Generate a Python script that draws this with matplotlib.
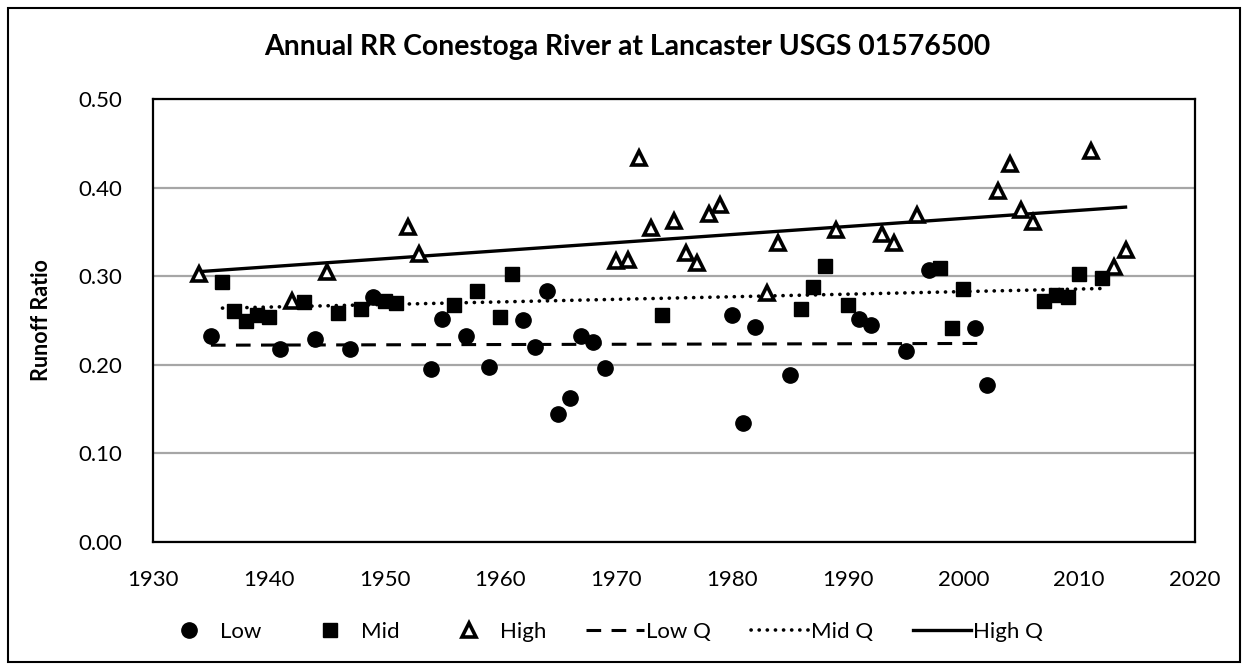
import numpy as np
import matplotlib
matplotlib.use("Agg")
import matplotlib.pyplot as plt
from matplotlib.lines import Line2D
from matplotlib.patches import Rectangle

plt.rcParams['font.family'] = ['Lato', 'DejaVu Sans']

title = "Annual RR Conestoga River at Lancaster USGS 01576500"
ylabel = "Runoff Ratio"

low_years = [1935, 1941, 1944, 1947, 1949, 1954, 1955, 1957, 1959, 1962, 1963, 1964, 1965, 1966,
             1967, 1968, 1969, 1980, 1981, 1982, 1985, 1991, 1992, 1995, 1997, 2001, 2002]
low_vals = [0.232, 0.218, 0.229, 0.218, 0.276, 0.195, 0.252, 0.233, 0.197, 0.251, 0.220, 0.283, 0.144, 0.163,
            0.232, 0.226, 0.196, 0.256, 0.134, 0.243, 0.188, 0.252, 0.245, 0.216, 0.307, 0.242, 0.177]

mid_years = [1936, 1937, 1938, 1939, 1940, 1943, 1946, 1948, 1950, 1951, 1956, 1958, 1960, 1961,
             1974, 1986, 1987, 1988, 1990, 1998, 1999, 2000, 2007, 2008, 2009, 2010, 2012]
mid_vals = [0.294, 0.261, 0.250, 0.256, 0.254, 0.271, 0.258, 0.263, 0.272, 0.270, 0.267, 0.283, 0.254, 0.303,
            0.256, 0.263, 0.288, 0.312, 0.268, 0.309, 0.241, 0.285, 0.272, 0.279, 0.277, 0.303, 0.298]

high_years = [1934, 1942, 1945, 1952, 1953, 1970, 1971, 1972, 1973, 1975, 1976, 1977, 1978, 1979,
              1983, 1984, 1989, 1993, 1994, 1996, 2003, 2004, 2005, 2006, 2011, 2013, 2014]
high_vals = [0.303, 0.272, 0.305, 0.355, 0.325, 0.317, 0.318, 0.433, 0.354, 0.362, 0.326, 0.315, 0.370, 0.380,
             0.281, 0.337, 0.352, 0.348, 0.337, 0.369, 0.396, 0.427, 0.375, 0.361, 0.441, 0.310, 0.330]

x_ticks = [1930, 1940, 1950, 1960, 1970, 1980, 1990, 2000, 2010, 2020]
y_ticks = [0.0, 0.1, 0.2, 0.3, 0.4, 0.5]

fig = plt.figure(figsize=(12.48, 6.70), dpi=100)
ax = fig.add_axes([153/1248, 1-542/670, (1195-153)/1248, (542-99)/670])

def trend(xs, ys):
    xs = np.asarray(xs, float)
    ys = np.asarray(ys, float)
    k, b = np.polyfit(xs, ys, 1)
    xx = np.array([xs.min(), xs.max()])
    return xx, k*xx + b

lx, ly = trend(low_years, low_vals)
mx, my = trend(mid_years, mid_vals)
hx, hy = trend(high_years, high_vals)

dash_style = dict(color='black', lw=2.2, linestyle=(0, (4.8, 3.4)))
dot_style = dict(color='black', lw=2.6, linestyle=(0, (0.05, 2.2)), dash_capstyle='round')
solid_style = dict(color='black', lw=2.4)
low_m = dict(marker='o', color='black', ls='none', ms=11)
mid_m = dict(marker='s', color='black', ls='none', ms=10.5)
high_m = dict(marker='^', mfc='white', mec='black', mew=2.6, ls='none', ms=10.5)

ax.plot(lx, ly, zorder=2, **dash_style)
ax.plot(mx, my, zorder=2, **dot_style)
ax.plot(hx, hy, zorder=2, **solid_style)

ax.plot(low_years, low_vals, zorder=3, **low_m)
ax.plot(mid_years, mid_vals, zorder=3, **mid_m)
ax.plot(high_years, high_vals, zorder=3, **high_m)

ax.set_xlim(1930, 2020)
ax.set_ylim(0, 0.5)
ax.set_xticks(x_ticks)
ax.set_yticks(y_ticks)
ax.set_yticklabels([f"{v:.2f}" for v in y_ticks])
ax.tick_params(axis='both', length=0, labelsize=16)
ax.tick_params(axis='y', pad=22)
ax.tick_params(axis='x', pad=20)
ax.yaxis.grid(True, color='#a6a6a6', lw=1.6)
ax.set_axisbelow(True)
for s in ax.spines.values():
    s.set_linewidth(1.6)
    s.set_color('black')

fig.text(0.503, 1-47/670, title, ha='center', va='center', fontsize=20.4, fontweight='bold')
fig.text(42/1248, 1-320/670, ylabel, ha='center', va='center', rotation=90, fontsize=15.5, fontweight='bold')

handles = [Line2D([], [], **low_m), Line2D([], [], **mid_m), Line2D([], [], **high_m),
           Line2D([], [], **dash_style), Line2D([], [], **dot_style), Line2D([], [], **solid_style)]
labels = ["Low", "Mid", "High", "Low Q", "Mid Q", "High Q"]
fig.legend(handles, labels, loc='center', bbox_to_anchor=(0.482, 1-632/670), ncol=6, frameon=False,
           fontsize=16, handlelength=2.6, columnspacing=1.8, handletextpad=0.1)

fig.add_artist(Rectangle((8/1248, 8/670), 1-16/1248, 1-16/670, transform=fig.transFigure,
                         fill=False, edgecolor='black', lw=1.5))

fig.savefig("out.png", dpi=100)
